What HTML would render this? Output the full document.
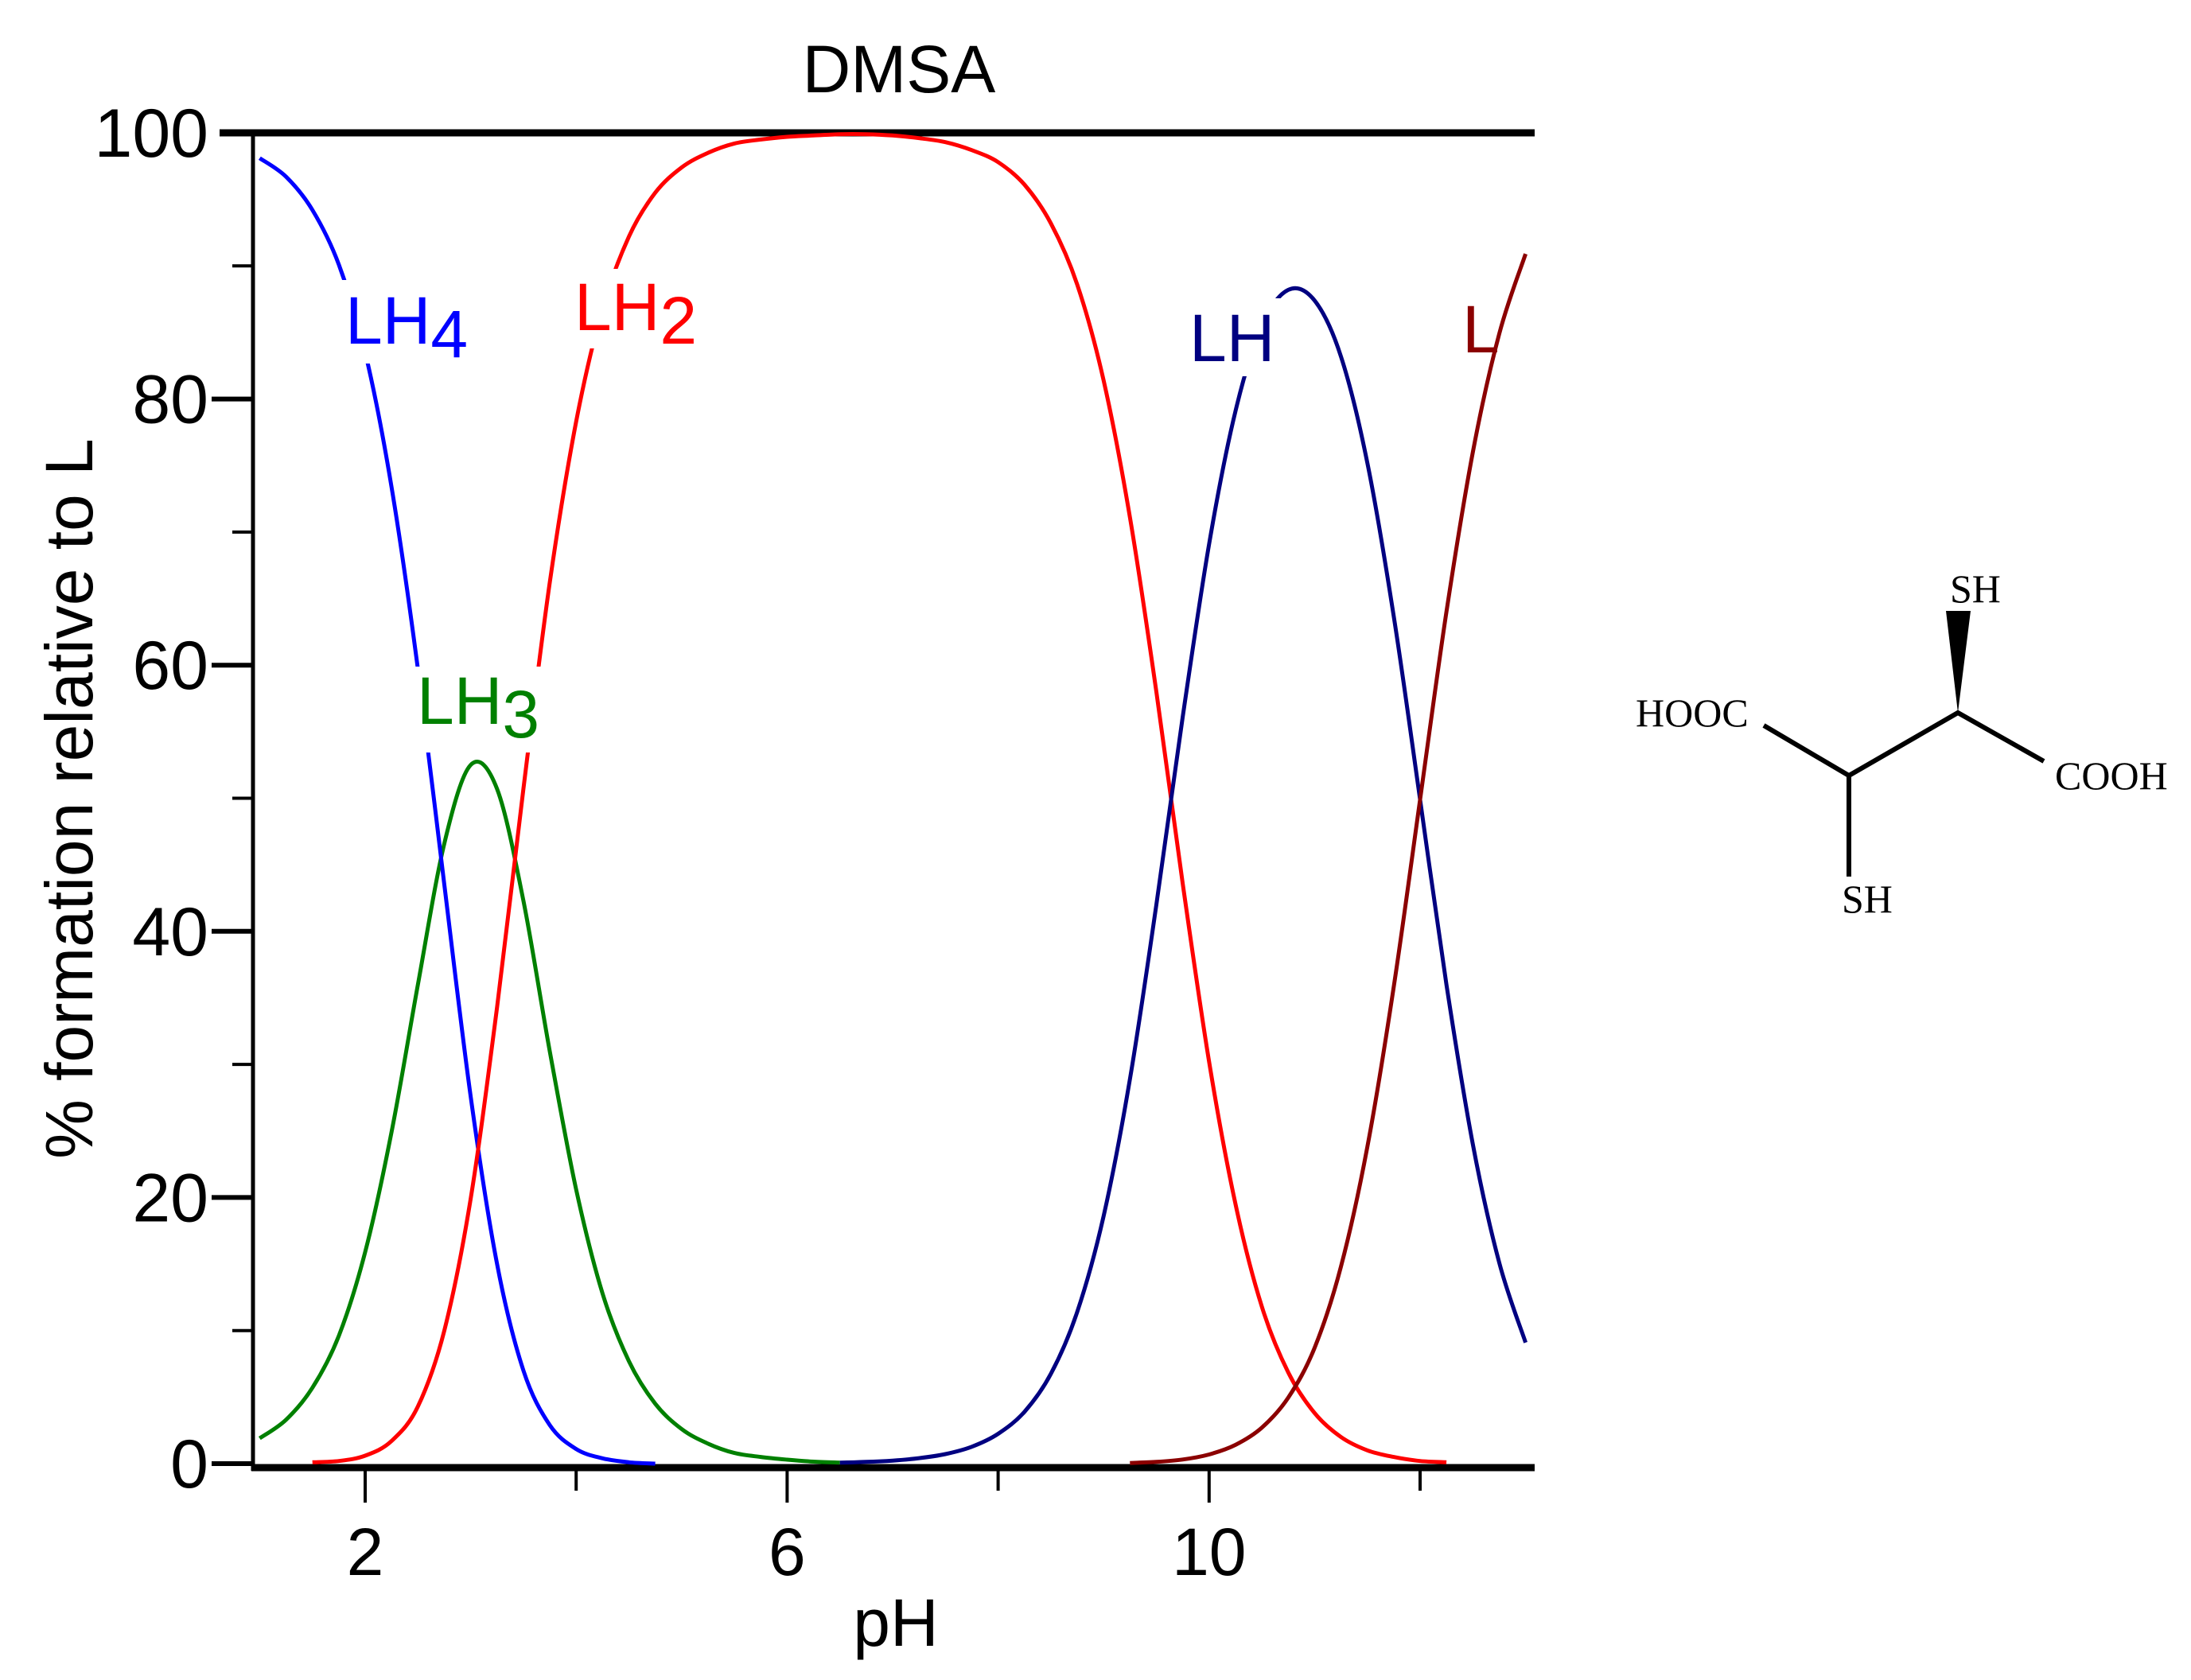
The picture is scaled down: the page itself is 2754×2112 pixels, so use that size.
<!DOCTYPE html>
<html><head><meta charset="utf-8"><style>
html,body{margin:0;padding:0;background:#fff;}
svg{display:block;}
text{font-family:"Liberation Sans",Arial,sans-serif;}
.ser{font-family:"Liberation Serif","Times New Roman",serif;}
</style></head><body>
<svg id="chart" width="2754" height="2112" viewBox="0 0 2754 2112" xmlns="http://www.w3.org/2000/svg">
<rect width="2754" height="2112" fill="#fff"/>
<g id="plot"></g>
<text x="1130" y="116" font-size="84" text-anchor="middle">DMSA</text>
<text x="1126" y="2069" font-size="84" text-anchor="middle">pH</text>
<text x="116" y="1004" font-size="84" text-anchor="middle" transform="rotate(-90 116 1004)">% formation relative to L</text>
<g stroke="#000" stroke-width="6" fill="none">
<polyline points="2217,912 2324,975 2461,896 2569,957"/>
<line x1="2324" y1="975" x2="2324" y2="1102"/>
<polygon points="2461,896 2446,768 2477,768" fill="#000" stroke="none"/>
</g>
<text class="ser" x="2056" y="913" font-size="50">HOOC</text>
<text class="ser" x="2583" y="992" font-size="50">COOH</text>
<text class="ser" x="2451" y="757" font-size="50">SH</text>
<text class="ser" x="2315" y="1147" font-size="50">SH</text>
</svg>
<script>
const pH = [1,1.25,1.5,1.75,2,2.25,2.5,2.75,3,3.25,3.5,3.75,4,4.25,4.5,4.75,5,5.25,5.5,5.75,6,6.25,6.5,6.75,7,7.25,7.5,7.75,8,8.25,8.5,8.75,9,9.25,9.5,9.75,10,10.25,10.5,10.75,11,11.25,11.5,11.75,12,12.25,12.5,12.75,13];
const N = null;
const LH4 = [98.1,96.7,94.2,90.1,83.5,73.4,59.7,43.5,27.6,15.0,7.0,2.9,1.1,0.4,0.1,0.0,N,N,N,N,N,N,N,N,N,N,N,N,N,N,N,N,N,N,N,N,N,N,N,N,N,N,N,N,N,N,N,N,N];
const LH3 = [1.9,3.3,5.7,9.6,15.9,24.9,36.0,46.6,52.5,50.7,42.3,31.0,20.6,12.8,7.7,4.5,2.6,1.5,0.8,0.5,0.3,0.15,0.08,N,N,N,N,N,N,N,N,N,N,N,N,N,N,N,N,N,N,N,N,N,N,N,N,N,N];
const LH2 = [N,N,0.1,0.2,0.6,1.7,4.3,10.0,19.9,34.3,50.7,66.2,78.3,86.8,92.2,95.5,97.4,98.5,99.2,99.5,99.7,99.8,99.9,99.9,99.8,99.6,99.3,98.7,97.8,96.1,93.2,88.6,81.4,71.1,58.0,43.6,30.2,19.5,11.8,6.85,3.8,2.0,1.0,0.5,0.2,0.1,N,N,N];
const LH = [N,N,N,N,N,N,N,N,N,N,N,N,N,N,N,N,N,N,N,N,N,N,0.07,0.13,0.23,0.41,0.72,1.27,2.24,3.9,6.75,11.4,18.6,28.9,42.0,56.1,69.1,79.1,85.5,88.2,87.4,83.2,75.2,63.7,49.9,36.0,24.0,15.1,9.1];
const L = [N,N,N,N,N,N,N,N,N,N,N,N,N,N,N,N,N,N,N,N,N,N,N,N,N,N,N,N,N,N,N,N,N,0.05,0.13,0.31,0.69,1.41,2.7,4.96,8.7,14.8,23.8,35.8,49.9,64.0,76.0,84.9,90.9];
const xTicks = [2,4,6,8,10,12];
const xTickLabels = ["2","","6","","10",""];
const yTicks = [0,10,20,30,40,50,60,70,80,90,100];
const yTickLabels = ["0","","20","","40","","60","","80","","100"];

const NS = "http://www.w3.org/2000/svg";
const g = document.getElementById('plot');
const X0 = 318, X1 = 1929, Y0 = 1840, Y100 = 167;
function xs(v){ return 459 + (v - 2) * 132.6; }
function ys(v){ return Y0 - v / 100 * (Y0 - Y100); }
function mk(tag, attrs){ const e = document.createElementNS(NS, tag); for (const k in attrs) e.setAttribute(k, attrs[k]); g.appendChild(e); return e; }

let e;
e = mk('line',{x1:X0,y1:Y100,x2:X0,y2:1849,stroke:'#000','stroke-width':5});


e = mk('line',{x1:276,y1:Y100,x2:X1,y2:Y100,stroke:'#000','stroke-width':9});


e = mk('line',{x1:X0-2,y1:1845,x2:X1,y2:1845,stroke:'#000','stroke-width':9});



xTicks.forEach((t,i)=>{
  const major = xTickLabels[i] !== "";
  const l = mk('line',{x1:xs(t),y1:1849,x2:xs(t),y2:major?1889:1874,stroke:'#000','stroke-width':4});
  
  
  if (major){
    const tx = mk('text',{x:xs(t),y:1980,'font-size':84,'text-anchor':'middle'});
    tx.textContent = xTickLabels[i];
    
    
  }
});
yTicks.forEach((t,i)=>{
  const major = yTickLabels[i] !== "";
  if (t !== 100){
    const l = mk('line',{x1:major?266:292,y1:ys(t),x2:X0,y2:ys(t),stroke:'#000','stroke-width':major?6:4});
    
    
  }
  if (major){
    const tx = mk('text',{x:262,y:ys(t)+30,'font-size':86,'text-anchor':'end'});
    tx.textContent = yTickLabels[i];
    
    
  }
});

function series(arr, color, name){
  const pts = [];
  arr.forEach((v,i)=>{ if (v !== null) pts.push([xs(pH[i]), ys(v)]); });
  let d = 'M' + pts[0][0].toFixed(1) + ',' + pts[0][1].toFixed(1);
  for (let i = 0; i < pts.length - 1; i++){
    const p0 = pts[i-1] || pts[i], p1 = pts[i], p2 = pts[i+1], p3 = pts[i+2] || p2;
    const c1x = p1[0] + (p2[0]-p0[0])/6, c1y = p1[1] + (p2[1]-p0[1])/6;
    const c2x = p2[0] - (p3[0]-p1[0])/6, c2y = p2[1] - (p3[1]-p1[1])/6;
    d += ' C' + c1x.toFixed(1)+','+c1y.toFixed(1)+' '+c2x.toFixed(1)+','+c2y.toFixed(1)+' '+p2[0].toFixed(1)+','+p2[1].toFixed(1);
  }
  const p = mk('path',{d:d,fill:'none',stroke:color,'stroke-width':5,'stroke-linejoin':'round'});
  
  
}
series(LH3,'#008000','series-lh3');
series(LH4,'#0000ff','series-lh4');
series(LH2,'#ff0000','series-lh2');
series(LH,'#000080','series-lh');
series(L,'#8b0000','series-l');

function label(x, y, main, sub, color, bx, by, bw, bh, name){
  if (bw){ const r = mk('rect',{x:bx,y:by,width:bw,height:bh,fill:'#fff'});   }
  const t = mk('text',{x:x,y:y,'font-size':84,fill:color});
  
  
  t.textContent = main;
  if (sub){
    const s = document.createElementNS(NS,'tspan');
    s.setAttribute('dy','17');
    s.textContent = sub;
    t.appendChild(s);
  }
}
label(434, 432, 'LH', '4', '#0000ff', 424, 352, 160, 105, 'label-lh4');
label(722, 415, 'LH', '2', '#ff0000', 712, 338, 160, 100, 'label-lh2');
label(524, 910, 'LH', '3', '#008000', 515, 838, 165, 108, 'label-lh3');
label(1495, 454, 'LH', '', '#000080', 1488, 375, 125, 98, 'label-lh');
label(1838, 443, 'L', '', '#8b0000', 0, 0, 0, 0, 'label-l');
</script>
</body></html>
